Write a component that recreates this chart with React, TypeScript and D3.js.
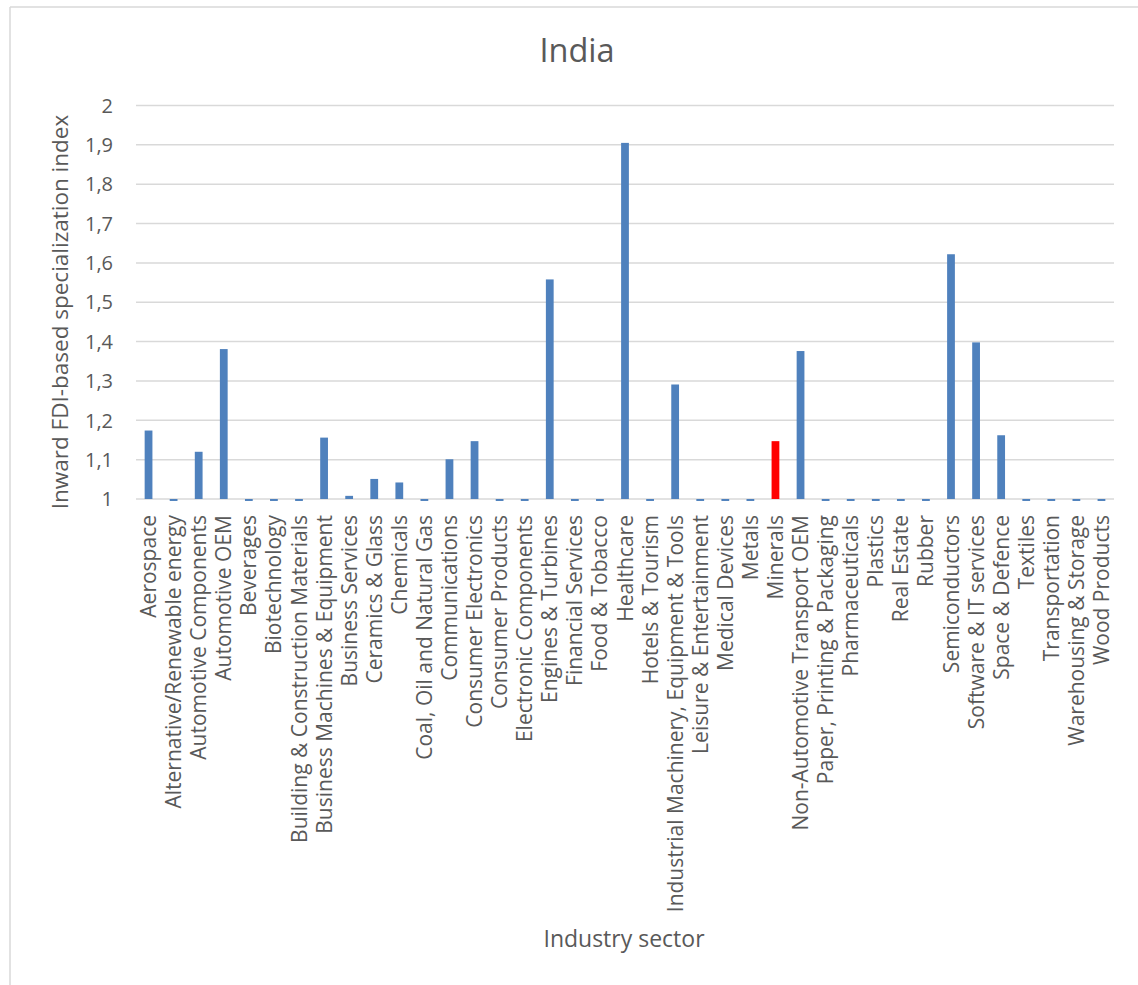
import React from "react";
import * as d3 from "d3";

const W = 1138;
const H = 985;

const title = "India";
const yAxisTitle = "Inward FDI-based specialization index";
const xAxisTitle = "Industry sector";

const categories = [
  "Aerospace",
  "Alternative/Renewable energy",
  "Automotive Components",
  "Automotive OEM",
  "Beverages",
  "Biotechnology",
  "Building & Construction Materials",
  "Business Machines & Equipment",
  "Business Services",
  "Ceramics & Glass",
  "Chemicals",
  "Coal, Oil and Natural Gas",
  "Communications",
  "Consumer Electronics",
  "Consumer Products",
  "Electronic Components",
  "Engines & Turbines",
  "Financial Services",
  "Food & Tobacco",
  "Healthcare",
  "Hotels & Tourism",
  "Industrial Machinery, Equipment & Tools",
  "Leisure & Entertainment",
  "Medical Devices",
  "Metals",
  "Minerals",
  "Non-Automotive Transport OEM",
  "Paper, Printing & Packaging",
  "Pharmaceuticals",
  "Plastics",
  "Real Estate",
  "Rubber",
  "Semiconductors",
  "Software & IT services",
  "Space & Defence",
  "Textiles",
  "Transportation",
  "Warehousing & Storage",
  "Wood Products",
];

const values = [
  1.174, 0.995, 1.12, 1.381, 0.995, 0.995, 0.995, 1.156, 1.008, 1.051,
  1.042, 0.995, 1.101, 1.147, 0.995, 0.995, 1.558, 0.995, 0.995, 1.905,
  0.995, 1.291, 0.995, 0.995, 0.995, 1.147, 1.376, 0.995, 0.995, 0.995,
  0.995, 0.995, 1.622, 1.398, 1.162, 0.995, 0.995, 0.995, 0.995,
];

const highlighted = ["Minerals"];

const yTicks = [1, 1.1, 1.2, 1.3, 1.4, 1.5, 1.6, 1.7, 1.8, 1.9, 2];

const FONT = "'Open Sans', 'Noto Sans', sans-serif";
const TEXT = "#595959";

export default function App() {
  const plot = { left: 136, right: 1114, top: 105.5, bottom: 499 };

  const x = d3
    .scaleBand<string>()
    .domain(categories)
    .range([plot.left, plot.right])
    .paddingInner(0.69)
    .paddingOuter(0.345);

  const y = d3.scaleLinear().domain([1, 2]).range([plot.bottom, plot.top]);

  const fmt = (v: number) => d3.format(".1~f")(v).replace(".", ",");

  return (
    <div style={{ position: "absolute", left: 0, top: 0 }}>
      <svg width={W} height={H} style={{ display: "block", background: "#fff" }}>
        {/* chart frame */}
        <line x1={10} x2={W} y1={7} y2={7} stroke="#d9d9d9" strokeWidth={1.5} />
        <line x1={10} x2={10} y1={7} y2={H} stroke="#d9d9d9" strokeWidth={1.5} />

        <text
          x={577}
          y={62}
          textAnchor="middle"
          fontFamily={FONT}
          fontSize={32.5}
          fill={TEXT}
        >
          {title}
        </text>

        {/* gridlines and value labels */}
        {yTicks.map((t) => (
          <g key={t}>
            <line
              x1={plot.left}
              x2={plot.right}
              y1={y(t)}
              y2={y(t)}
              stroke="#d9d9d9"
              strokeWidth={1.5}
            />
            <text
              x={113}
              y={y(t)}
              dy="0.36em"
              textAnchor="end"
              fontFamily={FONT}
              fontSize={20}
              fill={TEXT}
            >
              {fmt(t)}
            </text>
          </g>
        ))}

        {/* bars grow from the baseline at 1 */}
        {categories.map((c, i) => {
          const v = values[i];
          const y0 = y(1);
          const y1 = y(v);
          return (
            <rect
              key={c}
              x={x(c)!}
              width={x.bandwidth()}
              y={Math.min(y0, y1)}
              height={Math.max(Math.abs(y1 - y0), 0.5)}
              fill={highlighted.includes(c) ? "#ff0000" : "#4f81bd"}
            />
          );
        })}

        {/* category labels */}
        {categories.map((c) => {
          const cx = x(c)! + x.bandwidth() / 2;
          return (
            <text
              key={c}
              transform={`translate(${cx},${plot.bottom + 16}) rotate(-90)`}
              dy="0.36em"
              textAnchor="end"
              fontFamily={FONT}
              fontSize={21}
              fill={TEXT}
            >
              {c}
            </text>
          );
        })}

        <text
          transform={`translate(68,312) rotate(-90)`}
          textAnchor="middle"
          fontFamily={FONT}
          fontSize={22.5}
          fill={TEXT}
        >
          {yAxisTitle}
        </text>

        <text
          x={624}
          y={947}
          textAnchor="middle"
          fontFamily={FONT}
          fontSize={23}
          fill={TEXT}
        >
          {xAxisTitle}
        </text>
      </svg>
    </div>
  );
}
